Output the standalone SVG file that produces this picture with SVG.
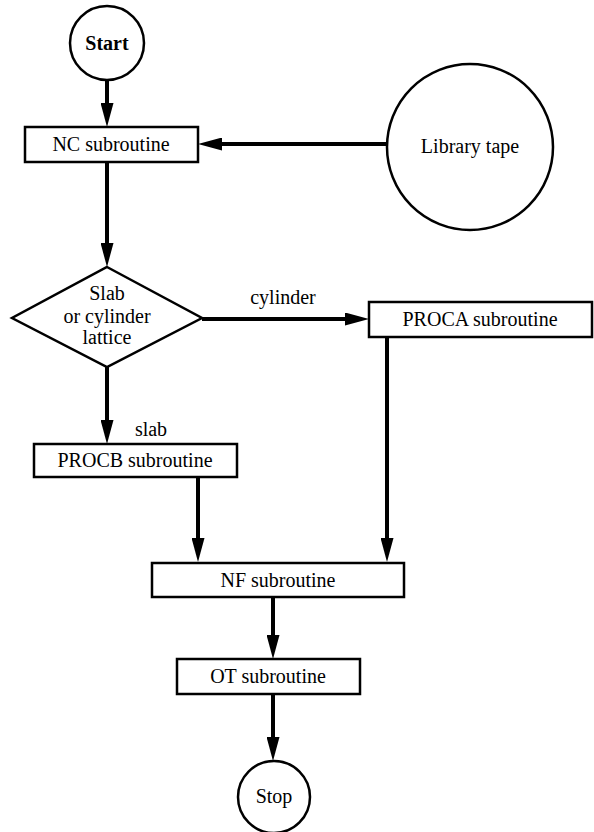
<svg xmlns="http://www.w3.org/2000/svg" width="594" height="832" viewBox="0 0 594 832">
<style>
  .shape { fill: #fff; stroke: #000; stroke-width: 2.5; }
  .conn { stroke: #000; stroke-width: 4; fill: none; marker-end: url(#arrow); }
  text { font-family: "Liberation Serif", "Times New Roman", serif; font-size: 20px; fill: #000; text-anchor: middle; }
  .bold { font-weight: bold; }
</style>
<defs>
  <marker id="arrow" viewBox="0 0 24 13" refX="12" refY="6.5" markerWidth="24" markerHeight="13" markerUnits="userSpaceOnUse" orient="auto">
    <path d="M0,0 L24,6.5 L0,13 Z" fill="#000"/>
  </marker>
</defs>
<rect width="594" height="832" fill="#fff"/>

<g id="connectors">
  <line class="conn" x1="107" y1="80" x2="107" y2="115"/>
  <line class="conn" x1="387" y1="144" x2="210" y2="144"/>
  <line class="conn" x1="107" y1="162" x2="107" y2="255"/>
  <line class="conn" x1="202" y1="319" x2="357" y2="319"/>
  <line class="conn" x1="107" y1="367" x2="107" y2="432"/>
  <line class="conn" x1="198" y1="477" x2="198" y2="550"/>
  <line class="conn" x1="387" y1="337" x2="387" y2="550"/>
  <line class="conn" x1="273" y1="597" x2="273" y2="647"/>
  <line class="conn" x1="273" y1="694" x2="273" y2="749"/>
  <text x="283" y="304">cylinder</text>
  <text x="151" y="436">slab</text>
</g>

<g id="start">
  <circle class="shape" cx="107" cy="43" r="37"/>
  <text class="bold" x="107" y="50">Start</text>
</g>

<g id="nc">
  <rect class="shape" x="25" y="127" width="173" height="35"/>
  <text x="111" y="151">NC subroutine</text>
</g>

<g id="library">
  <circle class="shape" cx="470" cy="147" r="83"/>
  <text x="470" y="153">Library tape</text>
</g>

<g id="decision">
  <polygon class="shape" points="107,267 202,318 107,367 12,318"/>
  <text x="107" y="300">Slab</text>
  <text x="107" y="323">or cylinder</text>
  <text x="107" y="344">lattice</text>
</g>

<g id="proca">
  <rect class="shape" x="369" y="302" width="223" height="35"/>
  <text x="480" y="326">PROCA subroutine</text>
</g>

<g id="procb">
  <rect class="shape" x="34" y="444" width="203" height="33"/>
  <text x="135" y="467">PROCB subroutine</text>
</g>

<g id="nf">
  <rect class="shape" x="152" y="563" width="252" height="34"/>
  <text x="278" y="587">NF subroutine</text>
</g>

<g id="ot">
  <rect class="shape" x="177" y="659" width="183" height="35"/>
  <text x="268" y="683">OT subroutine</text>
</g>

<g id="stop">
  <circle class="shape" cx="274" cy="797" r="36"/>
  <text x="274" y="803">Stop</text>
</g>
</svg>
